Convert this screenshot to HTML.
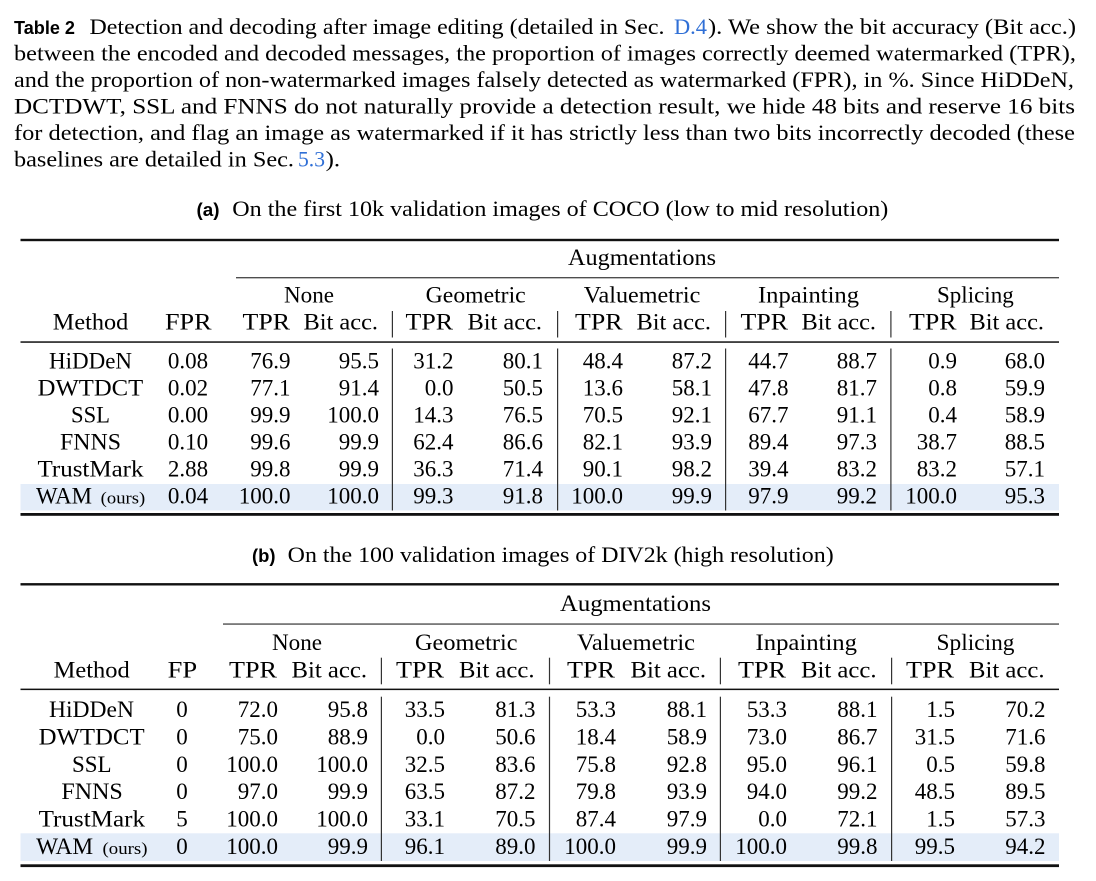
<!DOCTYPE html>
<html>
<head>
<meta charset="utf-8">
<style>
html,body{margin:0;padding:0;background:#fff;width:1096px;height:881px;overflow:hidden}
svg{display:block}
.s{font-family:"Liberation Serif",serif;font-size:22px;fill:#000}
.t{font-family:"Liberation Serif",serif;font-size:23px;fill:#000}
.sm{font-family:"Liberation Serif",serif;font-size:17px;fill:#000}
.b{font-family:"Liberation Sans",sans-serif;font-weight:bold;font-size:18px;fill:#000}
.l{fill:#2f6fd6}
.n{text-anchor:end}
.m{text-anchor:middle}
</style>
</head>
<body>
<svg width="1096" height="881" viewBox="0 0 1096 881" xmlns="http://www.w3.org/2000/svg">
<rect x="0" y="0" width="1096" height="881" fill="#fff"/>

<!-- Caption -->
<text class="b" x="14" y="34" textLength="61" lengthAdjust="spacingAndGlyphs">Table 2</text>
<text class="s" x="89.5" y="34" textLength="575" lengthAdjust="spacingAndGlyphs">Detection and decoding after image editing (detailed in Sec.</text>
<text class="s l" x="674" y="34" textLength="33" lengthAdjust="spacingAndGlyphs">D.4</text>
<text class="s" x="708" y="34" textLength="368" lengthAdjust="spacingAndGlyphs">). We show the bit accuracy (Bit acc.)</text>

<text class="s" x="14" y="60.5" textLength="1062" lengthAdjust="spacingAndGlyphs">between the encoded and decoded messages, the proportion of images correctly deemed watermarked (TPR),</text>
<text class="s" x="14" y="87" textLength="1060" lengthAdjust="spacingAndGlyphs">and the proportion of non-watermarked images falsely detected as watermarked (FPR), in %. Since HiDDeN,</text>
<text class="s" x="14" y="113.5" textLength="1061" lengthAdjust="spacingAndGlyphs">DCTDWT, SSL and FNNS do not naturally provide a detection result, we hide 48 bits and reserve 16 bits</text>
<text class="s" x="14" y="140" textLength="1061" lengthAdjust="spacingAndGlyphs">for detection, and flag an image as watermarked if it has strictly less than two bits incorrectly decoded (these</text>
<text class="s" x="14" y="166.5" textLength="280" lengthAdjust="spacingAndGlyphs">baselines are detailed in Sec.</text>
<text class="s l" x="298" y="166.5" textLength="27" lengthAdjust="spacingAndGlyphs">5.3</text>
<text class="s" x="325.6" y="166.5" textLength="14.5" lengthAdjust="spacingAndGlyphs">).</text>

<!-- Subcaption (a) -->
<text class="b" x="196.5" y="216" textLength="23" lengthAdjust="spacingAndGlyphs">(a)</text>
<text class="s" x="232.3" y="216" textLength="656" lengthAdjust="spacingAndGlyphs">On the first 10k validation images of COCO (low to mid resolution)</text>

<!-- ================= TABLE A ================= -->
<rect x="20.5" y="484" width="1038.5" height="26.5" fill="#e4edf9"/>
<rect x="20.5" y="238.8" width="1038.5" height="2.4" fill="#111"/>
<rect x="236" y="277.2" width="823" height="1.1" fill="#222"/>
<rect x="20.5" y="341.3" width="1038.5" height="1.5" fill="#111"/>
<rect x="20.5" y="513" width="1038.5" height="2.8" fill="#111"/>

<g fill="#333">
<rect x="391.8" y="311" width="1.2" height="26.5"/>
<rect x="557" y="311" width="1.2" height="26.5"/>
<rect x="725" y="311" width="1.2" height="26.5"/>
<rect x="890.3" y="311" width="1.2" height="26.5"/>
<rect x="391.8" y="348.5" width="1.2" height="162"/>
<rect x="557" y="348.5" width="1.2" height="162"/>
<rect x="725" y="348.5" width="1.2" height="162"/>
<rect x="890.3" y="348.5" width="1.2" height="162"/>
</g>

<text class="t" x="568" y="265" textLength="148" lengthAdjust="spacingAndGlyphs">Augmentations</text>

<text class="t" x="284" y="302.7" textLength="50" lengthAdjust="spacingAndGlyphs">None</text>
<text class="t" x="425.7" y="302.7" textLength="100" lengthAdjust="spacingAndGlyphs">Geometric</text>
<text class="t" x="583.8" y="302.7" textLength="116.5" lengthAdjust="spacingAndGlyphs">Valuemetric</text>
<text class="t" x="758" y="302.7" textLength="101" lengthAdjust="spacingAndGlyphs">Inpainting</text>
<text class="t" x="937" y="302.7" textLength="76.7" lengthAdjust="spacingAndGlyphs">Splicing</text>

<text class="t" x="52.8" y="329.3" textLength="75.4" lengthAdjust="spacingAndGlyphs">Method</text>
<text class="t" x="165" y="329.3" textLength="46.6" lengthAdjust="spacingAndGlyphs">FPR</text>
<text class="t" x="242.5" y="329.3" textLength="47.5" lengthAdjust="spacingAndGlyphs">TPR</text>
<text class="t" x="303.5" y="329.3" textLength="74.5" lengthAdjust="spacingAndGlyphs">Bit acc.</text>
<text class="t" x="405.5" y="329.3" textLength="47.5" lengthAdjust="spacingAndGlyphs">TPR</text>
<text class="t" x="467.5" y="329.3" textLength="74.5" lengthAdjust="spacingAndGlyphs">Bit acc.</text>
<text class="t" x="575" y="329.3" textLength="47.5" lengthAdjust="spacingAndGlyphs">TPR</text>
<text class="t" x="636.5" y="329.3" textLength="74.5" lengthAdjust="spacingAndGlyphs">Bit acc.</text>
<text class="t" x="740.5" y="329.3" textLength="47.5" lengthAdjust="spacingAndGlyphs">TPR</text>
<text class="t" x="801.5" y="329.3" textLength="74.5" lengthAdjust="spacingAndGlyphs">Bit acc.</text>
<text class="t" x="909" y="329.3" textLength="47.5" lengthAdjust="spacingAndGlyphs">TPR</text>
<text class="t" x="969.5" y="329.3" textLength="74.5" lengthAdjust="spacingAndGlyphs">Bit acc.</text>

<text class="t" x="49" y="368.3" textLength="83" lengthAdjust="spacingAndGlyphs">HiDDeN</text>
<text class="t" x="37.7" y="395.3" textLength="105.5" lengthAdjust="spacingAndGlyphs">DWTDCT</text>
<text class="t" x="71" y="422.3" textLength="39" lengthAdjust="spacingAndGlyphs">SSL</text>
<text class="t" x="60" y="449.3" textLength="61" lengthAdjust="spacingAndGlyphs">FNNS</text>
<text class="t" x="37.5" y="476.3" textLength="106" lengthAdjust="spacingAndGlyphs">TrustMark</text>
<text class="t" x="36" y="503.3" textLength="56" lengthAdjust="spacingAndGlyphs">WAM</text>
<text class="sm" x="100.7" y="503.3" textLength="44.5" lengthAdjust="spacingAndGlyphs">(ours)</text>

<text class="t m" x="188" y="368.3">0.08</text>
<text class="t m" x="188" y="395.3">0.02</text>
<text class="t m" x="188" y="422.3">0.00</text>
<text class="t m" x="188" y="449.3">0.10</text>
<text class="t m" x="188" y="476.3">2.88</text>
<text class="t m" x="188" y="503.3">0.04</text>

<text class="t n" y="368.3"><tspan x="290.5">76.9</tspan><tspan x="379">95.5</tspan><tspan x="453.5">31.2</tspan><tspan x="543">80.1</tspan><tspan x="623">48.4</tspan><tspan x="712">87.2</tspan><tspan x="788.5">44.7</tspan><tspan x="877">88.7</tspan><tspan x="957">0.9</tspan><tspan x="1045">68.0</tspan></text>
<text class="t n" y="395.3"><tspan x="290.5">77.1</tspan><tspan x="379">91.4</tspan><tspan x="453.5">0.0</tspan><tspan x="543">50.5</tspan><tspan x="623">13.6</tspan><tspan x="712">58.1</tspan><tspan x="788.5">47.8</tspan><tspan x="877">81.7</tspan><tspan x="957">0.8</tspan><tspan x="1045">59.9</tspan></text>
<text class="t n" y="422.3"><tspan x="290.5">99.9</tspan><tspan x="379">100.0</tspan><tspan x="453.5">14.3</tspan><tspan x="543">76.5</tspan><tspan x="623">70.5</tspan><tspan x="712">92.1</tspan><tspan x="788.5">67.7</tspan><tspan x="877">91.1</tspan><tspan x="957">0.4</tspan><tspan x="1045">58.9</tspan></text>
<text class="t n" y="449.3"><tspan x="290.5">99.6</tspan><tspan x="379">99.9</tspan><tspan x="453.5">62.4</tspan><tspan x="543">86.6</tspan><tspan x="623">82.1</tspan><tspan x="712">93.9</tspan><tspan x="788.5">89.4</tspan><tspan x="877">97.3</tspan><tspan x="957">38.7</tspan><tspan x="1045">88.5</tspan></text>
<text class="t n" y="476.3"><tspan x="290.5">99.8</tspan><tspan x="379">99.9</tspan><tspan x="453.5">36.3</tspan><tspan x="543">71.4</tspan><tspan x="623">90.1</tspan><tspan x="712">98.2</tspan><tspan x="788.5">39.4</tspan><tspan x="877">83.2</tspan><tspan x="957">83.2</tspan><tspan x="1045">57.1</tspan></text>
<text class="t n" y="503.3"><tspan x="290.5">100.0</tspan><tspan x="379">100.0</tspan><tspan x="453.5">99.3</tspan><tspan x="543">91.8</tspan><tspan x="623">100.0</tspan><tspan x="712">99.9</tspan><tspan x="788.5">97.9</tspan><tspan x="877">99.2</tspan><tspan x="957">100.0</tspan><tspan x="1045">95.3</tspan></text>

<!-- Subcaption (b) -->
<text class="b" x="252" y="562" textLength="23.5" lengthAdjust="spacingAndGlyphs">(b)</text>
<text class="s" x="287.7" y="562" textLength="546" lengthAdjust="spacingAndGlyphs">On the 100 validation images of DIV2k (high resolution)</text>

<!-- ================= TABLE B ================= -->
<rect x="20.5" y="833.3" width="1038.5" height="27.7" fill="#e4edf9"/>
<rect x="20.5" y="583.1" width="1038.5" height="2.4" fill="#111"/>
<rect x="223" y="623.5" width="836" height="1.1" fill="#222"/>
<rect x="20.5" y="688.6" width="1038.5" height="1.5" fill="#111"/>
<rect x="20.5" y="864.3" width="1038.5" height="2.8" fill="#111"/>

<g fill="#333">
<rect x="380.8" y="657.7" width="1.2" height="26.6"/>
<rect x="548.9" y="657.7" width="1.2" height="26.6"/>
<rect x="719.8" y="657.7" width="1.2" height="26.6"/>
<rect x="891" y="657.7" width="1.2" height="26.6"/>
<rect x="380.8" y="696.7" width="1.2" height="164.3"/>
<rect x="548.9" y="696.7" width="1.2" height="164.3"/>
<rect x="719.8" y="696.7" width="1.2" height="164.3"/>
<rect x="891" y="696.7" width="1.2" height="164.3"/>
</g>

<text class="t" x="560" y="611" textLength="151" lengthAdjust="spacingAndGlyphs">Augmentations</text>

<text class="t" x="272" y="650" textLength="50" lengthAdjust="spacingAndGlyphs">None</text>
<text class="t" x="415" y="650" textLength="102.5" lengthAdjust="spacingAndGlyphs">Geometric</text>
<text class="t" x="577" y="650" textLength="118" lengthAdjust="spacingAndGlyphs">Valuemetric</text>
<text class="t" x="755.5" y="650" textLength="101.5" lengthAdjust="spacingAndGlyphs">Inpainting</text>
<text class="t" x="936.5" y="650" textLength="78" lengthAdjust="spacingAndGlyphs">Splicing</text>

<text class="t" x="53.7" y="677.3" textLength="76" lengthAdjust="spacingAndGlyphs">Method</text>
<text class="t" x="167.7" y="677.3" textLength="29.5" lengthAdjust="spacingAndGlyphs">FP</text>
<text class="t" x="229" y="677.3" textLength="48" lengthAdjust="spacingAndGlyphs">TPR</text>
<text class="t" x="291.5" y="677.3" textLength="75.5" lengthAdjust="spacingAndGlyphs">Bit acc.</text>
<text class="t" x="396" y="677.3" textLength="48" lengthAdjust="spacingAndGlyphs">TPR</text>
<text class="t" x="459" y="677.3" textLength="75.5" lengthAdjust="spacingAndGlyphs">Bit acc.</text>
<text class="t" x="567" y="677.3" textLength="48" lengthAdjust="spacingAndGlyphs">TPR</text>
<text class="t" x="630.5" y="677.3" textLength="75.5" lengthAdjust="spacingAndGlyphs">Bit acc.</text>
<text class="t" x="738" y="677.3" textLength="48" lengthAdjust="spacingAndGlyphs">TPR</text>
<text class="t" x="801" y="677.3" textLength="75.5" lengthAdjust="spacingAndGlyphs">Bit acc.</text>
<text class="t" x="906" y="677.3" textLength="48" lengthAdjust="spacingAndGlyphs">TPR</text>
<text class="t" x="969" y="677.3" textLength="75.5" lengthAdjust="spacingAndGlyphs">Bit acc.</text>

<text class="t" x="49" y="717" textLength="85" lengthAdjust="spacingAndGlyphs">HiDDeN</text>
<text class="t" x="38.6" y="744.4" textLength="106" lengthAdjust="spacingAndGlyphs">DWTDCT</text>
<text class="t" x="72" y="771.8" textLength="39.6" lengthAdjust="spacingAndGlyphs">SSL</text>
<text class="t" x="61.4" y="799.2" textLength="61.4" lengthAdjust="spacingAndGlyphs">FNNS</text>
<text class="t" x="38.6" y="826.6" textLength="106.4" lengthAdjust="spacingAndGlyphs">TrustMark</text>
<text class="t" x="36.1" y="854" textLength="57" lengthAdjust="spacingAndGlyphs">WAM</text>
<text class="sm" x="102.5" y="854" textLength="45" lengthAdjust="spacingAndGlyphs">(ours)</text>

<text class="t m" x="182" y="717">0</text>
<text class="t m" x="182" y="744.4">0</text>
<text class="t m" x="182" y="771.8">0</text>
<text class="t m" x="182" y="799.2">0</text>
<text class="t m" x="182" y="826.6">5</text>
<text class="t m" x="182" y="854">0</text>

<text class="t n" y="717"><tspan x="278">72.0</tspan><tspan x="368">95.8</tspan><tspan x="445">33.5</tspan><tspan x="535.5">81.3</tspan><tspan x="616">53.3</tspan><tspan x="707">88.1</tspan><tspan x="787">53.3</tspan><tspan x="877.5">88.1</tspan><tspan x="955">1.5</tspan><tspan x="1045.5">70.2</tspan></text>
<text class="t n" y="744.4"><tspan x="278">75.0</tspan><tspan x="368">88.9</tspan><tspan x="445">0.0</tspan><tspan x="535.5">50.6</tspan><tspan x="616">18.4</tspan><tspan x="707">58.9</tspan><tspan x="787">73.0</tspan><tspan x="877.5">86.7</tspan><tspan x="955">31.5</tspan><tspan x="1045.5">71.6</tspan></text>
<text class="t n" y="771.8"><tspan x="278">100.0</tspan><tspan x="368">100.0</tspan><tspan x="445">32.5</tspan><tspan x="535.5">83.6</tspan><tspan x="616">75.8</tspan><tspan x="707">92.8</tspan><tspan x="787">95.0</tspan><tspan x="877.5">96.1</tspan><tspan x="955">0.5</tspan><tspan x="1045.5">59.8</tspan></text>
<text class="t n" y="799.2"><tspan x="278">97.0</tspan><tspan x="368">99.9</tspan><tspan x="445">63.5</tspan><tspan x="535.5">87.2</tspan><tspan x="616">79.8</tspan><tspan x="707">93.9</tspan><tspan x="787">94.0</tspan><tspan x="877.5">99.2</tspan><tspan x="955">48.5</tspan><tspan x="1045.5">89.5</tspan></text>
<text class="t n" y="826.6"><tspan x="278">100.0</tspan><tspan x="368">100.0</tspan><tspan x="445">33.1</tspan><tspan x="535.5">70.5</tspan><tspan x="616">87.4</tspan><tspan x="707">97.9</tspan><tspan x="787">0.0</tspan><tspan x="877.5">72.1</tspan><tspan x="955">1.5</tspan><tspan x="1045.5">57.3</tspan></text>
<text class="t n" y="854"><tspan x="278">100.0</tspan><tspan x="368">99.9</tspan><tspan x="445">96.1</tspan><tspan x="535.5">89.0</tspan><tspan x="616">100.0</tspan><tspan x="707">99.9</tspan><tspan x="787">100.0</tspan><tspan x="877.5">99.8</tspan><tspan x="955">99.5</tspan><tspan x="1045.5">94.2</tspan></text>

</svg>
</body>
</html>
